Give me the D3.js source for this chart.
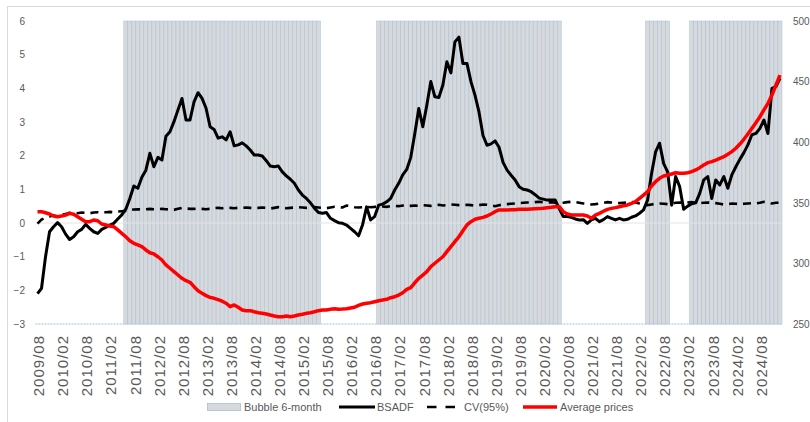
<!DOCTYPE html>
<html>
<head>
<meta charset="utf-8">
<script src="https://cdn.jsdelivr.net/npm/d3@7"></script>
<style>
  body { margin: 0; background: #fff; }
  #chart { width: 810px; height: 422px; }
  text { font-family: "Liberation Sans", Arial, sans-serif; }
</style>
</head>
<body>
<div id="chart"></div>
<script>
// Monthly BSADF bubble test, 2009/08 - 2025/01

var startYear = 2009, startMonth = 8, monthCount = 186;

var tickLabels = ['2009/08', '2010/02', '2010/08', '2011/02', '2011/08', '2012/02', '2012/08', '2013/02',
  '2013/08', '2014/02', '2014/08', '2015/02', '2015/08', '2016/02', '2016/08', '2017/02', '2017/08',
  '2018/02', '2018/08', '2019/02', '2019/08', '2020/02', '2020/08', '2021/02', '2021/08', '2022/02',
  '2022/08', '2023/02', '2023/08', '2024/02', '2024/08'];

var leftTicks = [-3, -2, -1, 0, 1, 2, 3, 4, 5, 6];
var rightTicks = [250, 300, 350, 400, 450, 500];

// periods flagged as bubble (6-month rule), first and last month
var bubblePeriods = [['2011/06', '2015/06'], ['2016/09', '2020/06'], ['2022/04', '2022/09'], ['2023/03', '2025/01']];

var bsadf = [
  -2.10, -1.94, -1.00, -0.26, -0.11, 0.01, -0.11, -0.33, -0.49, -0.41, -0.26, -0.19, -0.04, -0.16, -0.26, -0.31,
  -0.19, -0.13, -0.06, -0.01, 0.12, 0.24, 0.41, 0.73, 1.10, 1.03, 1.36, 1.57, 2.07, 1.67, 1.95, 1.87,
  2.58, 2.71, 3.01, 3.36, 3.70, 3.06, 3.06, 3.60, 3.87, 3.70, 3.41, 2.86, 2.78, 2.52, 2.56, 2.47,
  2.71, 2.29, 2.32, 2.38, 2.29, 2.17, 2.02, 2.02, 1.99, 1.85, 1.69, 1.67, 1.69, 1.52, 1.40, 1.30,
  1.18, 0.98, 0.83, 0.73, 0.60, 0.44, 0.31, 0.29, 0.31, 0.14, 0.07, 0.01, -0.01, -0.06, -0.16, -0.26,
  -0.38, -0.05, 0.48, 0.09, 0.19, 0.53, 0.56, 0.63, 0.73, 0.98, 1.18, 1.43, 1.59, 1.95, 2.65, 3.40,
  2.86, 3.50, 4.20, 3.75, 3.73, 4.10, 4.79, 4.46, 5.38, 5.52, 4.74, 4.74, 4.20, 3.80, 3.30, 2.60,
  2.31, 2.35, 2.44, 2.25, 1.80, 1.57, 1.42, 1.28, 1.08, 1.00, 0.98, 0.93, 0.84, 0.74, 0.71, 0.68,
  0.68, 0.68, 0.43, 0.19, 0.19, 0.17, 0.12, 0.09, 0.10, -0.01, 0.09, 0.14, 0.04, 0.10, 0.19, 0.14,
  0.09, 0.14, 0.09, 0.11, 0.17, 0.21, 0.29, 0.39, 0.68, 1.47, 2.11, 2.37, 1.77, 1.52, 0.53, 1.38,
  1.08, 0.41, 0.50, 0.57, 0.60, 0.88, 1.28, 1.38, 0.73, 1.28, 1.13, 1.38, 1.03, 1.43, 1.67, 1.89,
  2.09, 2.32, 2.62, 2.66, 2.81, 3.06, 2.66, 4.00, 4.05, 4.30
];

var cv95 = [
  -0.02, 0.10, 0.16, 0.19, 0.22, 0.20, 0.24, 0.27, 0.30, 0.30, 0.29, 0.31, 0.30, 0.29, 0.31, 0.32,
  0.30, 0.32, 0.33, 0.32, 0.34, 0.35, 0.36, 0.38, 0.40, 0.41, 0.40, 0.41, 0.42, 0.41, 0.41, 0.42,
  0.41, 0.40, 0.39, 0.42, 0.45, 0.43, 0.42, 0.42, 0.43, 0.42, 0.41, 0.42, 0.44, 0.45, 0.44, 0.46,
  0.45, 0.44, 0.45, 0.45, 0.46, 0.45, 0.44, 0.45, 0.46, 0.45, 0.43, 0.45, 0.47, 0.46, 0.44, 0.45,
  0.46, 0.47, 0.46, 0.45, 0.46, 0.47, 0.46, 0.45, 0.44, 0.46, 0.48, 0.47, 0.46, 0.52, 0.50, 0.47,
  0.46, 0.47, 0.48, 0.47, 0.48, 0.50, 0.49, 0.48, 0.50, 0.51, 0.50, 0.52, 0.50, 0.51, 0.52, 0.51,
  0.53, 0.52, 0.51, 0.53, 0.54, 0.52, 0.53, 0.55, 0.54, 0.53, 0.52, 0.54, 0.53, 0.51, 0.53, 0.55,
  0.54, 0.52, 0.50, 0.53, 0.55, 0.56, 0.57, 0.58, 0.59, 0.60, 0.61, 0.61, 0.62, 0.63, 0.62, 0.61,
  0.62, 0.60, 0.58, 0.60, 0.62, 0.63, 0.62, 0.60, 0.58, 0.57, 0.55, 0.56, 0.58, 0.60, 0.62, 0.61,
  0.60, 0.59, 0.60, 0.61, 0.62, 0.61, 0.58, 0.55, 0.53, 0.55, 0.57, 0.58, 0.57, 0.56, 0.58, 0.60,
  0.61, 0.60, 0.61, 0.62, 0.60, 0.59, 0.60, 0.61, 0.60, 0.59, 0.57, 0.55, 0.56, 0.58, 0.57, 0.56,
  0.57, 0.58, 0.59, 0.58, 0.60, 0.63, 0.61, 0.58, 0.60, 0.60
];

var avgPrices = [
  342.7, 342.7, 341.8, 340.8, 339.1, 338.5, 339.1, 339.9, 341.3, 340.5, 338.5, 336.4, 334.4, 334.4, 335.8, 335.2,
  332.5, 331.7, 330.9, 330.3, 327.6, 324.8, 322.0, 318.7, 316.6, 315.2, 313.8, 311.1, 308.8, 307.8, 305.5, 302.8,
  298.7, 296.0, 293.2, 290.4, 287.7, 285.7, 284.4, 280.8, 277.5, 275.3, 273.4, 272.0, 271.2, 270.1, 268.8, 267.1,
  264.3, 265.7, 263.8, 261.6, 261.0, 261.0, 260.1, 259.3, 258.8, 258.3, 257.4, 256.6, 256.0, 256.0, 256.6, 256.0,
  256.6, 257.4, 258.0, 258.8, 259.3, 260.1, 261.0, 261.6, 261.6, 262.1, 262.6, 262.1, 262.3, 262.6, 263.2, 263.8,
  265.4, 266.5, 267.1, 267.6, 268.4, 269.2, 269.8, 270.4, 271.7, 272.5, 273.9, 275.8, 278.6, 280.0, 284.0, 287.7,
  290.4, 293.2, 297.3, 300.1, 302.8, 305.5, 309.7, 313.8, 317.9, 322.0, 327.0, 331.7, 334.4, 336.4, 337.2, 338.0,
  339.1, 340.8, 342.7, 344.1, 344.1, 344.1, 344.2, 344.3, 344.6, 344.6, 344.7, 344.9, 345.1, 345.2, 345.5, 346.0,
  346.3, 346.8, 346.8, 342.7, 340.8, 339.9, 339.9, 339.9, 339.9, 339.1, 337.2, 339.9, 341.3, 343.0, 344.6, 345.4,
  346.0, 346.8, 347.5, 348.2, 349.5, 350.9, 353.7, 356.4, 359.2, 363.9, 367.4, 370.2, 372.1, 372.9, 373.8, 374.8,
  374.3, 374.3, 374.8, 375.7, 377.1, 379.0, 381.2, 383.1, 384.0, 385.3, 386.7, 388.0, 390.0, 392.2, 395.0, 398.5,
  402.4, 406.8, 411.4, 416.1, 421.0, 426.6, 432.1, 438.9, 447.2, 455.4
];

document.addEventListener('DOMContentLoaded', drawChart);

function drawChart() {
  var el = document.getElementById('chart');
  var width = 810, height = 422;
  var plot = { left: 35.5, right: 782, top: 21, bottom: 324 };
  var textColor = '#595959';

  var months = [];
  for (var i = 0; i < monthCount; i++) {
    var y = startYear + Math.floor((startMonth - 1 + i) / 12);
    var m = (startMonth - 1 + i) % 12 + 1;
    months.push(y + '/' + (m < 10 ? '0' + m : m));
  }
  var bubble = months.map(function (mo) {
    var inside = bubblePeriods.some(function (p) { return mo >= p[0] && mo <= p[1]; });
    return inside ? 6 : -3;
  });

  var svg = d3.select(el).append('svg')
    .attr('width', width)
    .attr('height', height);

  // chart frame
  svg.append('rect')
    .attr('x', 7.5).attr('y', 6.5)
    .attr('width', 900).attr('height', 500)
    .attr('fill', 'none')
    .attr('stroke', '#d9d9d9');

  var x = d3.scaleBand().domain(months).range([plot.left, plot.right]).padding(0);
  var yL = d3.scaleLinear().domain([-3, 6]).range([plot.bottom, plot.top]);
  var yR = d3.scaleLinear().domain([250, 500]).range([plot.bottom, plot.top]);

  // zero-height columns still show their border along the bottom
  svg.append('line')
    .attr('x1', plot.left).attr('x2', plot.right)
    .attr('y1', yL(-3)).attr('y2', yL(-3))
    .attr('stroke', '#9fc0e4')
    .attr('stroke-width', 1)
    .attr('stroke-dasharray', '2,1');

  // bubble columns
  svg.append('g').selectAll('rect')
    .data(bubble)
    .join('rect')
    .attr('x', function (d, i) { return x(months[i]); })
    .attr('width', x.bandwidth())
    .attr('y', function (d) { return yL(d); })
    .attr('height', function (d) { return yL(-3) - yL(d); })
    .attr('fill', '#d9d9d9')
    .attr('stroke', '#9fc0e4')
    .attr('stroke-width', 0.5);

  // zero line
  svg.append('line')
    .attr('x1', plot.left).attr('x2', plot.right)
    .attr('y1', yL(0)).attr('y2', yL(0))
    .attr('stroke', '#e3e3e3')
    .attr('stroke-width', 1);

  // left axis
  svg.append('g')
    .attr('transform', 'translate(' + 25 + ',0)')
    .call(d3.axisLeft(yL).tickValues(leftTicks).tickSize(0).tickPadding(0))
    .call(function (g) { g.select('.domain').remove(); })
    .call(function (g) { g.selectAll('text').attr('font-size', 10).attr('fill', textColor).attr('font-family', '"Liberation Sans", Arial, sans-serif'); });

  // right axis
  svg.append('g')
    .attr('transform', 'translate(' + 793 + ',0)')
    .call(d3.axisRight(yR).tickValues(rightTicks).tickSize(0).tickPadding(0))
    .call(function (g) { g.select('.domain').remove(); })
    .call(function (g) { g.selectAll('text').attr('font-size', 10).attr('fill', textColor).attr('font-family', '"Liberation Sans", Arial, sans-serif'); });

  // category axis, rotated labels
  svg.append('g')
    .attr('transform', 'translate(0,' + plot.bottom + ')')
    .call(d3.axisBottom(x).tickValues(tickLabels).tickSize(0))
    .call(function (g) { g.select('.domain').remove(); })
    .call(function (g) {
      g.selectAll('text')
        .attr('transform', 'rotate(-90)')
        .attr('x', -11)
        .attr('y', 0)
        .attr('dy', '0.45em')
        .attr('text-anchor', 'end')
        .attr('font-size', 15)
        .attr('letter-spacing', 1)
        .attr('fill', textColor)
        .attr('font-family', '"Liberation Sans", Arial, sans-serif');
    });

  var xc = function (d, i) { return x(months[i]) + x.bandwidth() / 2; };

  svg.append('path')
    .datum(cv95)
    .attr('fill', 'none')
    .attr('stroke', '#000')
    .attr('stroke-width', 2.6)
    .attr('stroke-dasharray', '8,6')
    .attr('d', d3.line().x(xc).y(function (d) { return yL(d); }));

  svg.append('path')
    .datum(bsadf)
    .attr('fill', 'none')
    .attr('stroke', '#000')
    .attr('stroke-width', 3)
    .attr('stroke-linejoin', 'round')
    .attr('d', d3.line().x(xc).y(function (d) { return yL(d); }));

  svg.append('path')
    .datum(avgPrices)
    .attr('fill', 'none')
    .attr('stroke', '#ff0000')
    .attr('stroke-width', 3.5)
    .attr('stroke-linejoin', 'round')
    .attr('d', d3.line().x(xc).y(function (d) { return yR(d); }));

  // legend
  var lg = svg.append('g').attr('font-size', 11).attr('fill', textColor);
  var ly = 407;
  lg.append('rect').attr('x', 207.5).attr('y', ly - 3.5).attr('width', 33).attr('height', 7)
    .attr('fill', '#d9d9d9').attr('stroke', '#9fc0e4').attr('stroke-width', 0.8);
  lg.append('text').attr('x', 244).attr('y', ly + 4).text('Bubble 6-month');

  lg.append('line').attr('x1', 339).attr('x2', 375).attr('y1', ly).attr('y2', ly)
    .attr('stroke', '#000').attr('stroke-width', 3);
  lg.append('text').attr('x', 377).attr('y', ly + 4).text('BSADF');

  lg.append('line').attr('x1', 427).attr('x2', 455).attr('y1', ly).attr('y2', ly)
    .attr('stroke', '#000').attr('stroke-width', 2.5).attr('stroke-dasharray', '9.5,9');
  lg.append('text').attr('x', 464).attr('y', ly + 4).text('CV(95%)');

  lg.append('line').attr('x1', 523).attr('x2', 557).attr('y1', ly).attr('y2', ly)
    .attr('stroke', '#ff0000').attr('stroke-width', 3.5);
  lg.append('text').attr('x', 560).attr('y', ly + 4).text('Average prices');
}
</script>
</body>
</html>
